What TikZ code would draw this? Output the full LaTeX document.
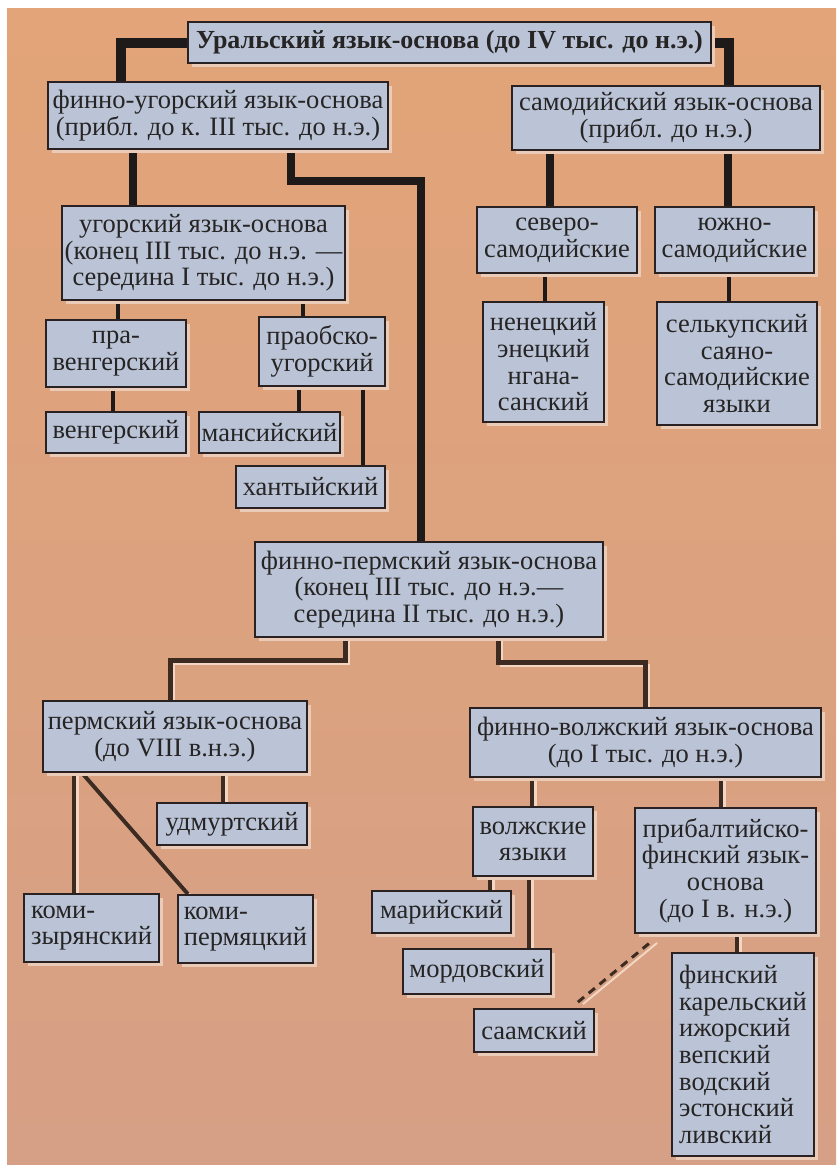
\documentclass[tikz,border=0pt]{standalone}
\usepackage{fontspec}
\setmainfont{Liberation Serif}
\usetikzlibrary{calc,shadows}
\definecolor{bgtop}{HTML}{E2A478}
\definecolor{bgbot}{HTML}{D6A086}
\definecolor{boxfill}{HTML}{BAC4D6}
\definecolor{bdr}{HTML}{2A2222}
\definecolor{txt}{HTML}{262424}
\definecolor{shc}{HTML}{EACBB8}
\definecolor{blk}{HTML}{1E1A1A}
\definecolor{brn}{HTML}{3D2B22}
\definecolor{hlc}{HTML}{F2D6C2}
\pgfdeclarelayer{bgfill}
\pgfdeclarelayer{lines}
\pgfsetlayers{bgfill,lines,main}
\newcommand{\boxat}[7][]{\node[box,#1,minimum width={(#5-#3)*1pt},minimum height={(#6-#4)*1pt}] (#2) at ({(#3+#5)/2},{(#4+#6)/2}) {#7};}
\begin{document}
\begin{tikzpicture}[x=1pt,y=-1pt,
  box/.style={draw=bdr,line width=1.8pt,fill=boxfill,text=txt,align=center,inner sep=1pt,
    font=\fontsize{26.5}{26.7}\selectfont,
    drop shadow={shadow xshift=4pt,shadow yshift=-4pt,fill=shc,draw=none,opacity=1}},
  lbox/.style={align=left},
  heavy/.style={draw=blk,line width=10pt},
  mid/.style={draw=blk,line width=8.5pt},
  thin/.style={draw=blk,line width=4.5pt},
  conn/.style={draw=brn,line width=4pt,preaction={draw=hlc,line width=3pt,transform canvas={xshift=3.5pt,yshift=-3pt}}},
  dconn/.style={draw=brn,line width=3pt,dash pattern=on 8pt off 6pt,preaction={draw=hlc,line width=2pt,solid,transform canvas={xshift=5pt,yshift=-2pt}}}
]
\useasboundingbox (0,0) rectangle (836,1165);
\begin{pgfonlayer}{bgfill}
\fill[white] (0,0) rectangle (836,1165);
\shade[top color=bgtop,bottom color=bgbot] (7,8) rectangle (836,1165);
\end{pgfonlayer}

% coordinates for connector positions
\coordinate (xFU) at (121,0);
\coordinate (xSAM) at (729,0);
\coordinate (xA) at (133,0);
\coordinate (xB) at (291,0);
\coordinate (jFP) at (421,181);
\coordinate (xS1) at (550,0);
\coordinate (xS2) at (728,0);
\coordinate (xU1) at (118,0);
\coordinate (xU2) at (303,0);
\coordinate (xV) at (113,0);
\coordinate (xM) at (299,0);
\coordinate (xK) at (363,0);
\coordinate (xN) at (545,0);
\coordinate (xSe) at (729,0);
\coordinate (xP1) at (345,0);
\coordinate (jP) at (170,660);
\coordinate (xP2) at (498,0);
\coordinate (jV) at (645,662);
\coordinate (xKZ) at (74,0);
\coordinate (xUd) at (223,0);
\coordinate (xD1) at (82,0);
\coordinate (xD2) at (188,0);
\coordinate (xW1) at (532,0);
\coordinate (xW2) at (721,0);
\coordinate (xMa) at (490,0);
\coordinate (xMo) at (529,0);
\coordinate (xFi) at (737,0);

% boxes
\boxat[font=\fontsize{26}{26}\selectfont\bfseries]{ural}{188}{22}{711}{63}{Уральский язык-основа (до IV тыс. до н.э.)}
\boxat{fu}{48}{82}{388}{149}{финно-угорский язык-основа\\(прибл. до к. III тыс. до н.э.)}
\boxat{sam}{512}{86}{820}{150}{самодийский язык-основа\\(прибл. до н.э.)}
\boxat{ugr}{62}{206}{345}{300}{угорский язык-основа\\(конец III тыс. до н.э. —\\середина I тыс. до н.э.)}
\boxat{pravengr}{46}{320}{186}{387}{пра-\\венгерский}
\boxat{praob}{259}{317}{385}{386}{праобско-\\угорский}
\boxat{vengr}{46}{412}{186}{453}{венгерский}
\boxat{mansi}{199}{412}{340}{453}{мансийский}
\boxat{khanty}{236}{466}{385}{508}{хантыйский}
\boxat{sever}{477}{207}{637}{273}{северо-\\самодийские}
\boxat{yuzh}{655}{207}{814}{273}{южно-\\самодийские}
\boxat{nenets}{483}{302}{604}{422}{ненецкий\\энецкий\\нгана-\\санский}
\boxat{selkup}{657}{302}{817}{425}{селькупский\\саяно-\\самодийские\\языки}
\boxat{fperm}{255}{542}{603}{637}{финно-пермский язык-основа\\(конец III тыс. до н.э.—\\середина II тыс. до н.э.)}
\boxat{perm}{43}{701}{307}{772}{пермский язык-основа\\(до VIII в.н.э.)}
\boxat{fvolzh}{470}{708}{821}{777}{финно-волжский язык-основа\\(до I тыс. до н.э.)}
\boxat{udm}{157}{803}{307}{845}{удмуртский}
\boxat[lbox]{komiz}{24}{894}{159}{962}{коми-\\зырянский}
\boxat[lbox]{komip}{178}{895}{313}{963}{коми-\\пермяцкий}
\boxat{volzh}{473}{807}{593}{876}{волжские\\языки}
\boxat{pribalt}{635}{808}{816}{933}{прибалтийско-\\финский язык-\\основа\\(до I в. н.э.)}
\boxat{mari}{372}{891}{511}{933}{марийский}
\boxat{mordov}{403}{949}{551}{994}{мордовский}
\boxat{saam}{474}{1009}{594}{1052}{саамский}
\boxat[lbox]{finsk}{672}{953}{814}{1156}{финский\\карельский\\ижорский\\вепский\\водский\\эстонский\\ливский}

% connectors (behind boxes)
\begin{pgfonlayer}{lines}
\draw[heavy] (ural.west) -| (xFU |- fu.north);
\draw[heavy] (ural.east) -| (xSAM |- sam.north);
\draw[mid] (xA |- fu.south) -- (xA |- ugr.north);
\draw[mid] (xB |- fu.south) |- (jFP) -- (jFP |- fperm.north);
\draw[mid] (xS1 |- sam.south) -- (xS1 |- sever.north);
\draw[mid] (xS2 |- sam.south) -- (xS2 |- yuzh.north);
\draw[thin] (xU1 |- ugr.south) -- (xU1 |- pravengr.north);
\draw[thin] (xU2 |- ugr.south) -- (xU2 |- praob.north);
\draw[thin] (xV |- pravengr.south) -- (xV |- vengr.north);
\draw[thin] (xM |- praob.south) -- (xM |- mansi.north);
\draw[thin] (xK |- praob.south) -- (xK |- khanty.north);
\draw[thin] (xN |- sever.south) -- (xN |- nenets.north);
\draw[thin] (xSe |- yuzh.south) -- (xSe |- selkup.north);
\draw[conn,line width=5pt] (xP1 |- fperm.south) |- (jP) -- (jP |- perm.north);
\draw[conn,line width=5pt] (xP2 |- fperm.south) |- (jV) -- (jV |- fvolzh.north);
\draw[conn] (xKZ |- perm.south) -- (xKZ |- komiz.north);
\draw[conn] (xD1 |- perm.south) -- (xD2 |- komip.north);
\draw[conn] (xUd |- perm.south) -- (xUd |- udm.north);
\draw[conn] (xW1 |- fvolzh.south) -- (xW1 |- volzh.north);
\draw[conn] (xW2 |- fvolzh.south) -- (xW2 |- pribalt.north);
\draw[conn] (xMa |- volzh.south) -- (xMa |- mari.north);
\draw[conn] (xMo |- volzh.south) -- (xMo |- mordov.north);
\draw[conn] (xFi |- pribalt.south) -- (xFi |- finsk.north);
\draw[dconn] ($(saam.north east)+(-17,-6)$) -- ($(pribalt.south west)+(18,7)$);
\end{pgfonlayer}
\end{tikzpicture}
\end{document}
